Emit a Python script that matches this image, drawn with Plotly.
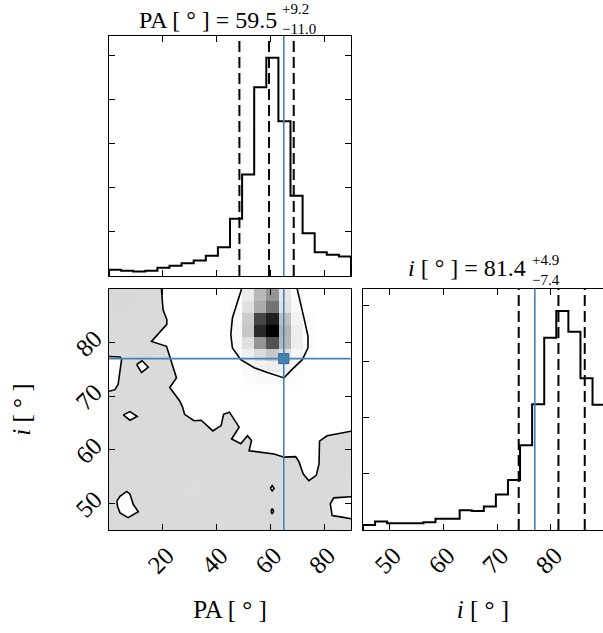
import numpy as np
import plotly.graph_objects as go

# ------------------------------------------------------------------ data
PA_RANGE = [0.0, 90.0]
I_RANGE = [45.0, 90.0]
N_BINS = 20

# marginal histograms (counts per bin, 20 bins over the axis range)
pa_hist_counts = [14, 12, 10, 12, 19, 23, 29, 35, 46, 65,
                  130, 230, 428, 495, 351, 182, 97, 54, 48, 44]
i_hist_counts = [9, 15, 12, 12, 12, 14, 20, 20, 35, 34,
                 42, 63, 89, 151, 224, 342, 390, 353, 270, 223]

# summary statistics
pa_median, pa_err_up, pa_err_lo = 59.5, 9.2, 11.0
i_median, i_err_up, i_err_lo = 81.4, 4.9, 7.4
pa_truth = 65.0
i_truth = 77.0

pa_ticks = [20, 40, 60, 80]
i_ticks = [50, 60, 70, 80]
pa_hist_ticks = [100, 200, 300, 400, 500]
i_hist_ticks = [100, 200, 300, 400]

# 2D histogram around the peak (PA bins 10..16, i bins 12..19), rows = i bins low->high
peak_pa_bins = [10, 11, 12, 13, 14, 15, 16]
peak_i_bins = [12, 13, 14, 15, 16, 17, 18, 19]
peak_counts = [
    [0, 1, 2, 2, 2, 1, 0],
    [0, 2, 5, 7, 5, 2, 0],
    [1, 6, 14, 22, 13, 4, 1],
    [2, 12, 42, 68, 28, 7, 1],
    [3, 22, 84, 100, 30, 7, 1],
    [2, 20, 72, 88, 25, 5, 1],
    [1, 12, 33, 55, 12, 3, 0],
    [0, 8, 28, 42, 10, 2, 0],
]

# apparent density of the scattered samples outside the contour (coarse grid)
speckle_pa = [4.5, 13.5, 22.5, 31.5, 40.5, 49.5, 58.5, 67.5, 76.5, 85.5]
speckle_i = [47.5, 52.5, 57.5, 62.5, 67.5, 72.5, 77.5, 82.5, 87.5]
speckle_density = [
    [0.90, 0.88, 0.92, 0.90, 0.88, 0.90, 0.92, 0.90, 0.88, 0.86],
    [0.92, 0.90, 0.88, 0.86, 0.88, 0.90, 0.92, 0.90, 0.90, 0.88],
    [0.92, 0.92, 0.90, 0.88, 0.90, 0.92, 0.90, 0.90, 0.92, 0.90],
    [0.92, 0.94, 0.92, 0.90, 0.92, 0.90, 0.90, 0.90, 0.90, 0.90],
    [0.90, 0.92, 0.94, 0.92, 0.90, 0.90, 0.90, 0.90, 0.90, 0.90],
    [0.88, 0.90, 0.92, 0.90, 0.90, 0.90, 0.90, 0.90, 0.90, 0.90],
    [0.88, 0.92, 0.90, 0.90, 0.90, 0.90, 0.90, 0.90, 0.90, 0.90],
    [0.92, 0.94, 0.90, 0.90, 0.90, 0.90, 0.90, 0.90, 0.90, 0.90],
    [0.95, 0.92, 0.90, 0.90, 0.90, 0.90, 0.90, 0.90, 0.90, 0.90],
]

# outer contour (PA, i) from the top edge down to the right edge
outer_pa = [19.5, 20.1, 21.5, 21.5, 15.8, 21.4, 25.1, 22.6, 26.3, 27.4, 28.1, 31.6, 34.3,
            38.6, 41.7, 42.6, 44.8, 48.4, 45.6, 49.0, 51.5, 53.0, 52.1, 56.4, 61.4, 65.1,
            69.4, 70.6, 72.2, 74.3, 77.1, 78.1, 78.3, 81.1, 86.7, 90.0]
outer_i = [90.0, 86.1, 84.3, 83.4, 80.2, 79.3, 73.4, 71.6, 69.1, 67.9, 66.6, 65.4, 65.5,
           63.5, 64.5, 66.6, 67.0, 64.2, 62.0, 61.1, 62.6, 61.7, 59.8, 59.5, 59.2, 58.6,
           58.7, 57.8, 55.5, 54.2, 55.2, 57.3, 61.6, 62.6, 63.2, 63.45]

# inner contour around the peak
inner_pa = [49.3, 47.8, 45.9, 45.3, 45.9, 49.0, 54.0, 58.9, 65.1, 68.1, 71.9, 74.0, 74.0,
            72.5, 71.0, 70.0]
inner_i = [90.0, 87.7, 84.6, 81.5, 79.0, 76.8, 75.3, 74.4, 73.4, 75.0, 76.8, 79.0, 81.2,
           84.6, 87.7, 90.0]

# small contour islands (closed loops, or touching an edge)
islands = [
    ([0.0, 4.1, 4.7, 3.4, 2.2, 0.0], [77.4, 77.3, 76.9, 72.2, 71.2, 70.9]),        # left edge
    ([10.3, 12.3, 14.6, 12.1, 10.3], [75.9, 76.6, 75.4, 74.4, 75.9]),
    ([5.3, 7.8, 10.5, 7.8, 5.3], [66.5, 67.1, 66.2, 65.5, 66.5]),
    ([2.9, 4.1, 6.6, 7.8, 9.0, 10.9, 7.1, 4.1, 3.2, 2.9],
     [50.4, 51.3, 52.2, 51.7, 49.8, 48.4, 47.3, 48.2, 49.4, 50.4]),
    ([60.0, 60.7, 61.4, 60.7, 60.0], [52.8, 53.3, 52.8, 52.3, 52.8]),
    ([60.2, 60.7, 61.2, 60.7, 60.2], [48.5, 49.0, 48.5, 48.0, 48.5]),
    ([90.0, 83.6, 82.3, 83.0, 86.7, 90.0], [51.2, 51.0, 49.9, 47.7, 47.4, 47.1]),  # right edge
]

# ------------------------------------------------------------------ derived
pa_edges = np.linspace(PA_RANGE[0], PA_RANGE[1], N_BINS + 1)
i_edges = np.linspace(I_RANGE[0], I_RANGE[1], N_BINS + 1)
pa_centers = 0.5 * (pa_edges[:-1] + pa_edges[1:])
i_centers = 0.5 * (i_edges[:-1] + i_edges[1:])

pa_q = [pa_median - pa_err_lo, pa_median, pa_median + pa_err_up]
i_q = [i_median - i_err_lo, i_median, i_median + i_err_up]


def step_xy(edges, counts):
    x = [edges[0]] + list(edges[:-1]) + [edges[-1], edges[-1]]
    y = [0] + list(counts) + [counts[-1], 0]
    return x, y


BLUE = "#4682b4"
FONT = "Liberation Serif"
W, H = 603, 633


def fx(px):
    return px / W


def fy(py):
    return 1 - py / H


fig = go.Figure()

# top-left: PA marginal
x, y = step_xy(pa_edges, pa_hist_counts)
fig.add_trace(go.Scatter(x=x, y=y, mode="lines", line=dict(color="black", width=2, shape="hv"),
                         xaxis="x", yaxis="y", showlegend=False, hoverinfo="skip"))

# bottom-right: i marginal
x, y = step_xy(i_edges, i_hist_counts)
fig.add_trace(go.Scatter(x=x, y=y, mode="lines", line=dict(color="black", width=2, shape="hv"),
                         xaxis="x3", yaxis="y3", showlegend=False, hoverinfo="skip"))

# bottom-left base: speckle tone + white region
fig.add_trace(go.Heatmap(x=speckle_pa, y=speckle_i, z=speckle_density, zmin=0, zmax=1,
                         colorscale=[[0, "white"], [1, "rgb(214,214,214)"]], zsmooth="best",
                         showscale=False, xaxis="x2", yaxis="y2", hoverinfo="skip"))
wx = list(outer_pa) + [PA_RANGE[1], outer_pa[0]]
wy = list(outer_i) + [I_RANGE[1], outer_i[0]]
for ipa, ii in islands:
    wx += [None] + list(ipa)
    wy += [None] + list(ii)
fig.add_trace(go.Scatter(x=wx, y=wy, mode="lines", fill="toself", fillcolor="white",
                         line=dict(width=0, color="white"), xaxis="x2", yaxis="y2",
                         showlegend=False, hoverinfo="skip"))

# bottom-left overlay: peak histogram, contour lines, truth marker
fig.add_trace(go.Heatmap(x=pa_centers[peak_pa_bins], y=i_centers[peak_i_bins], z=peak_counts,
                         zmin=0, zmax=100, colorscale=[[0, "white"], [1, "black"]],
                         showscale=False, xaxis="x4", yaxis="y4", hoverinfo="skip"))
lx = list(outer_pa) + [None] + list(inner_pa)
ly = list(outer_i) + [None] + list(inner_i)
for ipa, ii in islands:
    lx += [None] + list(ipa)
    ly += [None] + list(ii)
fig.add_trace(go.Scatter(x=lx, y=ly, mode="lines", line=dict(color="black", width=1.6),
                         xaxis="x4", yaxis="y4", showlegend=False, hoverinfo="skip"))
fig.add_trace(go.Scatter(x=[pa_truth], y=[i_truth], mode="markers",
                         marker=dict(symbol="square", size=10, color=BLUE,
                                     line=dict(color="#2f5f8a", width=1)),
                         xaxis="x4", yaxis="y4", showlegend=False, hoverinfo="skip"))

# lines
shapes = []
for q in pa_q:
    shapes.append(dict(type="line", xref="x", yref="y domain", x0=q, x1=q, y0=0, y1=1,
                       line=dict(color="black", width=2, dash="11px,5px")))
for q in i_q:
    shapes.append(dict(type="line", xref="x3", yref="y3 domain", x0=q, x1=q, y0=0, y1=1,
                       line=dict(color="black", width=2, dash="11px,5px")))
shapes.append(dict(type="line", xref="x", yref="y domain", x0=pa_truth, x1=pa_truth, y0=0, y1=1,
                   line=dict(color=BLUE, width=1.6)))
shapes.append(dict(type="line", xref="x3", yref="y3 domain", x0=i_truth, x1=i_truth, y0=0, y1=1,
                   line=dict(color=BLUE, width=1.6)))
shapes.append(dict(type="line", xref="x2", yref="y2 domain", x0=pa_truth, x1=pa_truth, y0=0, y1=1,
                   line=dict(color=BLUE, width=1.6)))
shapes.append(dict(type="line", xref="x2 domain", yref="y2", x0=0, x1=1, y0=i_truth, y1=i_truth,
                   line=dict(color=BLUE, width=1.6)))

axis_base = dict(showline=True, linecolor="black", linewidth=1.3, ticks="inside", ticklen=6,
                 tickwidth=1.1, tickcolor="black", showgrid=False, zeroline=False,
                 mirror="ticks", tickfont=dict(family=FONT, size=25, color="black"))

x_left = [fx(109), fx(351)]
x_right = [fx(363), 1.0]
y_top = [fy(276), fy(36)]
y_bot = [fy(530), fy(289)]

layout = dict(
    width=W, height=H, margin=dict(l=0, r=0, t=0, b=0),
    paper_bgcolor="white", plot_bgcolor="white", showlegend=False,
    font=dict(family=FONT, color="black"),
    shapes=shapes,
    xaxis=dict(axis_base, domain=x_left, anchor="y", range=PA_RANGE, tickvals=pa_ticks,
               showticklabels=False),
    yaxis=dict(axis_base, domain=y_top, anchor="x", range=[0, 1.1 * max(pa_hist_counts)],
               tickvals=pa_hist_ticks, showticklabels=False),
    xaxis2=dict(axis_base, domain=x_left, anchor="y2", range=PA_RANGE, tickvals=pa_ticks,
                tickangle=-45, ticklabelshift=4,
                title=dict(text="PA [ ° ]", font=dict(family=FONT, size=25), standoff=22)),
    yaxis2=dict(axis_base, domain=y_bot, anchor="x2", range=I_RANGE, tickvals=i_ticks,
                tickangle=-45, ticklabelstandoff=8, ticklabelshift=-7,
                title=dict(text="<i>i</i> [ ° ]", font=dict(family=FONT, size=25), standoff=32)),
    xaxis3=dict(axis_base, domain=x_right, anchor="y3", range=[I_RANGE[0], 89.7],
                tickvals=i_ticks, tickangle=-45, ticklabelshift=4,
                title=dict(text="<i>i</i> [ ° ]", font=dict(family=FONT, size=25), standoff=22)),
    yaxis3=dict(axis_base, domain=y_bot, anchor="x3", range=[0, 1.1 * max(i_hist_counts)],
                tickvals=i_hist_ticks, showticklabels=False, mirror=False),
    xaxis4=dict(overlaying="x2", anchor="y4", range=PA_RANGE, visible=False),
    yaxis4=dict(overlaying="y2", anchor="x4", range=I_RANGE, visible=False),
)
fig.update_layout(**layout)

# titles of the marginal panels: main text + stacked upper/lower errors
ann = []
ann.append(dict(text=f"PA [ ° ] = {pa_median:.1f}", x=fx(279), y=fy(20), xref="paper", yref="paper",
                xanchor="right", yanchor="middle", showarrow=False, font=dict(family=FONT, size=24)))
ann.append(dict(text=f"+{pa_err_up:.1f}<br>\u2212{pa_err_lo:.1f}", x=fx(280), y=fy(19),
                xref="paper", yref="paper", xanchor="left", yanchor="middle", align="left",
                showarrow=False, font=dict(family=FONT, size=15)))
ann.append(dict(text=f"<i>i</i> [ ° ] = {i_median:.1f}", x=fx(528), y=fy(268), xref="paper",
                yref="paper", xanchor="right", yanchor="middle", showarrow=False,
                font=dict(family=FONT, size=24)))
ann.append(dict(text=f"+{i_err_up:.1f}<br>\u2212{i_err_lo:.1f}", x=fx(530), y=fy(270),
                xref="paper", yref="paper", xanchor="left", yanchor="middle", align="left",
                showarrow=False, font=dict(family=FONT, size=15)))
fig.update_layout(annotations=ann)

fig.write_html("out.html")
